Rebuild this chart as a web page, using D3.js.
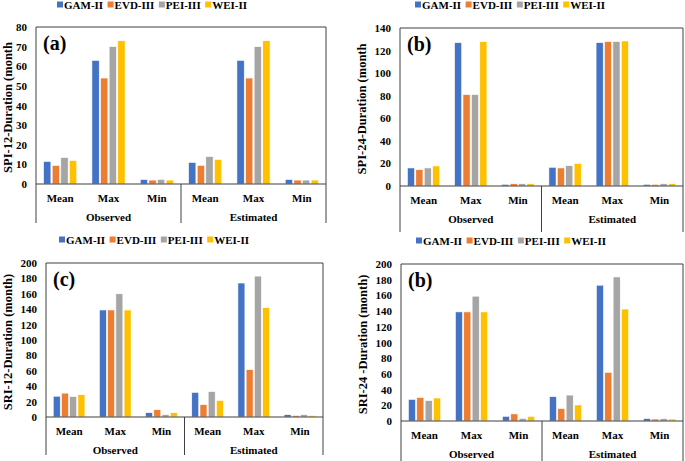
<!DOCTYPE html>
<html><head><meta charset="utf-8">
<script src="https://cdn.jsdelivr.net/npm/d3@7"></script>
<style>body{margin:0;background:#fff}svg{display:block}text{font-family:"Liberation Serif","Times New Roman",serif;font-weight:bold;fill:#000}</style>
</head><body>
<svg id="c" width="685" height="461"></svg>
<script>
const categories = ["Mean","Max","Min"];
const groups = ["Observed","Estimated"];
const seriesNames = ["GAM-II","EVD-III","PEI-III","WEI-II"];
const seriesColors = ["#4472C4","#ED7D31","#A5A5A5","#FFC000"];

// values: Observed Mean, Max, Min, Estimated Mean, Max, Min
const spi12_GAM = [11.5, 63, 2.3, 11, 63, 2.3];
const spi12_EVD = [9.5, 54, 2, 9.5, 54, 2];
const spi12_PEI = [13.5, 70, 2.3, 14, 70, 2];
const spi12_WEI = [12, 73, 2, 12.5, 73, 2];

const spi24_GAM = [16, 127, 1.5, 16.6, 127, 1.5];
const spi24_EVD = [14.5, 81, 2, 16, 128, 1.5];
const spi24_PEI = [16, 81, 2, 18, 128, 2];
const spi24_WEI = [17.8, 128, 2, 20, 128.5, 2];

const sri12_GAM = [27, 139, 5.6, 32, 174, 3];
const sri12_EVD = [31, 139, 9.5, 16, 61.5, 2];
const sri12_PEI = [26.5, 160, 3, 33, 183, 3];
const sri12_WEI = [29, 139, 5.6, 21.6, 142, 2];

const sri24_GAM = [27.6, 139, 6, 31, 173, 3];
const sri24_EVD = [30, 139, 9, 16, 62, 2.5];
const sri24_PEI = [26, 159, 3.4, 33, 183.5, 3];
const sri24_WEI = [29.3, 139, 6, 20.4, 142.6, 2.5];

const ticksA = [0,10,20,30,40,50,60,70,80];
const ticksB = [0,20,40,60,80,100,120,140];
const ticksC = [0,20,40,60,80,100,120,140,160,180,200];
const ticksD = [0,20,40,60,80,100,120,140,160,180,200];

const panels = [
  {label:"(a)", title:"SPI-12-Duration (month", ticks:ticksA, data:[spi12_GAM,spi12_EVD,spi12_PEI,spi12_WEI],
   L:36, R:326, T:27, Z:184, B:223, legY:5, legX:57, titleX:8},
  {label:"(b)", title:"SPI-24-Duration (month", ticks:ticksB, data:[spi24_GAM,spi24_EVD,spi24_PEI,spi24_WEI],
   L:400, R:683, T:28, Z:186, B:232, legY:5, legX:415, titleX:362},
  {label:"(c)", title:"SRI-12-Duration (month)", ticks:ticksC, data:[sri12_GAM,sri12_EVD,sri12_PEI,sri12_WEI],
   L:46, R:323, T:263, Z:417, B:455, legY:240, legX:59, titleX:8},
  {label:"(b)", title:"SRI-24 -Duration (month)", ticks:ticksD, data:[sri24_GAM,sri24_EVD,sri24_PEI,sri24_WEI],
   L:401, R:683, T:264, Z:421, B:463, legY:241, legX:416, titleX:363}
];

const svg = d3.select("#c");
const lineColor = "#404040";
const FONT = "Liberation Serif, Times New Roman, serif";

panels.forEach(p => {
  const g = svg.append("g");
  const keys = d3.range(6);
  const x0 = d3.scaleBand().domain(keys).range([p.L, p.R]).padding(0);
  const x1 = d3.scaleBand().domain(d3.range(4)).range([0, x0.bandwidth()]).paddingInner(0.15).paddingOuter(0.88);
  const y = d3.scaleLinear().domain([0, d3.max(p.ticks)]).range([p.Z, p.T]);

  // bars
  p.data.forEach((vals, si) => {
    g.selectAll(null).data(vals).enter().append("rect")
      .attr("x", (d,i) => x0(i) + x1(si))
      .attr("width", x1.bandwidth())
      .attr("y", d => y(d))
      .attr("height", d => y(0) - y(d))
      .attr("fill", seriesColors[si])
      .attr("stroke", "#fff").attr("stroke-width", 0.6);
  });

  // y axis
  const yAxis = d3.axisLeft(y).tickValues(p.ticks).tickSize(0).tickPadding(9);
  const ya = g.append("g").attr("transform", `translate(${p.L},0)`).call(yAxis)
    .attr("font-family", FONT).attr("font-size", 11);
  ya.select(".domain").remove();
  ya.selectAll("text").attr("font-family", FONT).style("font-size","11px").style("font-weight","bold").attr("fill","#000");

  // frame: top, left, right
  g.append("line").attr("x1",p.L).attr("x2",p.R).attr("y1",p.T).attr("y2",p.T).attr("stroke",lineColor);
  g.append("line").attr("x1",p.L).attr("x2",p.L).attr("y1",p.T).attr("y2",p.B).attr("stroke",lineColor);
  g.append("line").attr("x1",p.R).attr("x2",p.R).attr("y1",p.T).attr("y2",p.B).attr("stroke",lineColor);
  // zero axis
  g.append("line").attr("x1",p.L).attr("x2",p.R).attr("y1",p.Z).attr("y2",p.Z).attr("stroke",lineColor).attr("stroke-width",1.2);
  // group divider
  const gx = d3.scaleBand().domain(groups).range([p.L, p.R]);
  g.append("line").attr("x1",gx("Estimated")).attr("x2",gx("Estimated")).attr("y1",p.Z).attr("y2",p.B).attr("stroke",lineColor);

  // category labels
  keys.forEach(i => {
    g.append("text").attr("x", x0(i) + x0.bandwidth()/2).attr("y", p.Z + 18)
      .attr("text-anchor","middle").style("font-size","11px").text(categories[i % 3]);
  });
  groups.forEach(gr => {
    g.append("text").attr("x", gx(gr) + gx.bandwidth()/2).attr("y", p.Z + 37)
      .attr("text-anchor","middle").style("font-size","11px").text(gr);
  });

  // panel label
  g.append("text").attr("x", p.L + 7).attr("y", p.T + 23).style("font-size","20px").text(p.label);

  // y title
  const cy = (p.T + p.Z) / 2 + 2;
  g.append("text").attr("transform", `translate(${p.titleX + 4},${cy}) rotate(-90)`)
    .attr("text-anchor","middle").style("font-size","12.5px").text(p.title);

  // legend
  let lx = p.legX;
  seriesNames.forEach((s, si) => {
    g.append("rect").attr("x", lx).attr("y", p.legY - 3.5).attr("width", 6).attr("height", 6).attr("fill", seriesColors[si]);
    const t = g.append("text").attr("x", lx + 7).attr("y", p.legY + 3.5).style("font-size","11px").text(s);
    lx += 7 + t.node().getComputedTextLength() + 4.5;
  });
});
</script>
</body></html>
